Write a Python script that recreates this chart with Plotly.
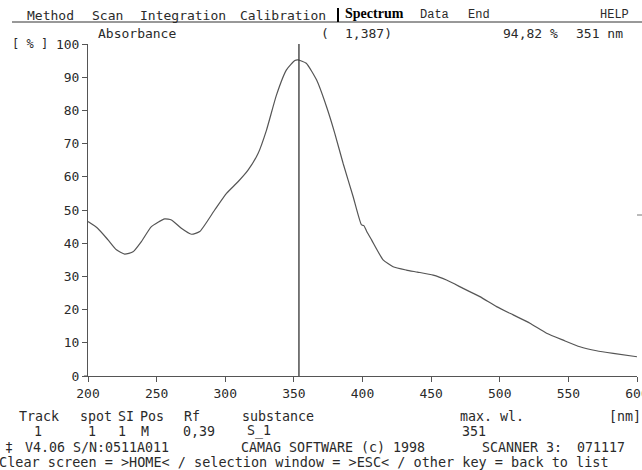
import plotly.graph_objects as go

# ---- data ----
wavelength_nm = [200, 207, 214.6, 220.7, 226.7, 232.8, 238.9, 246.2, 255.9, 260.8,
                 268, 275.4, 281.4, 292.3, 300.9, 309.3, 316.6, 323.9, 330, 337.3,
                 344.6, 350.7, 353, 359, 366.5, 373.8, 379.8, 385.9, 393.2, 399.3,
                 401, 403, 406.6, 415, 422.3, 432, 440, 451.5, 461.2, 473.3, 485.5,
                 497.7, 509.8, 522, 534.1, 546.2, 558.4, 570.5, 582.7, 600]
absorbance_pct = [46.5, 44.5, 41, 38, 36.7, 37.4, 40.5, 45, 47.3, 47,
                  44.5, 42.7, 43.5, 50, 55, 58.5, 62, 67, 74, 84.6,
                  92.2, 95.0, 95.2, 94.2, 89.2, 81.1, 73.1, 64, 54, 45.5,
                  45.3, 43.6, 41, 35, 32.9, 31.9, 31.3, 30.4, 28.9, 26.4, 23.9,
                  20.9, 18.4, 15.9, 12.9, 10.8, 8.8, 7.6, 6.8, 5.8]
cursor_nm = 353.7
x_ticks = [200, 250, 300, 350, 400, 450, 500, 550, 600]
y_ticks = [0, 10, 20, 30, 40, 50, 60, 70, 80, 90, 100]

menu_items = ["Method", "Scan", "Integration", "Calibration"]
menu_x = [25, 90, 138, 238]
menu_right = ["Data", "End", "HELP"]
menu_right_x = [418, 466, 598]

W, H = 642, 470
L, R, T, B = 88, 5, 44, 94
PW, PH = W - L - R, H - T - B
MONO = "DejaVu Sans Mono"
TXT = "#2a2a2a"
FS = 13.3


def px(x, y):
    return (x - L) / PW, (H - B - y) / PH


fig = go.Figure()
fig.add_trace(go.Scatter(x=wavelength_nm, y=absorbance_pct, mode="lines",
                         line=dict(color="#555555", width=1.2, shape="spline", smoothing=0.5),
                         hoverinfo="skip", showlegend=False))

fig.add_shape(type="line", xref="x", yref="y", x0=cursor_nm, x1=cursor_nm, y0=0, y1=100.5,
              line=dict(color="#333333", width=1.3))

anns = []


def txt(s, x, y, size=FS, color=TXT, anchor="left", family=MONO):
    xp, yp = px(x, y)
    anns.append(dict(text=s, x=xp, y=yp, xref="paper", yref="paper", showarrow=False,
                     xanchor=anchor, yanchor="middle",
                     font=dict(family=family, size=size, color=color)))


for s, x in zip(menu_items, menu_x):
    txt(s, x, 15, size=13)
txt("<b>Spectrum</b>", 343, 14, size=14, color="#000000", family="Liberation Serif")
for s, x in zip(menu_right, menu_right_x):
    txt(s, x, 15, size=12, family="Liberation Mono")

txt("Absorbance", 96, 33, size=13)
txt("(", 319, 33, size=13)
txt("1,387)", 343, 33, size=13)
txt("94,82 %", 501, 33, size=13)
txt("351 nm", 574, 33, size=13)
txt("[ % ]", 10, 44, size=12)

# bottom info lines
txt("Track", 17, 416)
txt("spot", 78, 416)
txt("SI", 116, 416)
txt("Pos", 138, 416)
txt("Rf", 182, 416)
txt("substance", 240, 416)
txt("max. wl.", 458, 416)
txt("[nm]", 607, 416)

txt("1", 32, 431)
txt("1", 86, 431)
txt("1", 116, 431)
txt("M", 139, 431)
txt("0,39", 181, 431)
txt("S_1", 245, 431)
txt("351", 460, 431)

txt("‡", 3, 447)
txt("V4.06 S/N:0511A011", 23, 447)
txt("CAMAG SOFTWARE (c) 1998", 239, 447)
txt("SCANNER 3:", 480, 447)
txt("071117", 575, 447)

txt("Clear screen = >HOME< / selection window = >ESC< / other key = back to list", -3, 462, size=13.5)

# menu underline and separator bar
x0, y0 = px(12, 22)
x1, _ = px(642, 22)
fig.add_shape(type="line", xref="paper", yref="paper", x0=x0, x1=x1, y0=y0, y1=y0,
              line=dict(color="#333333", width=1))
bx, by0 = px(338, 8)
_, by1 = px(338, 22)
fig.add_shape(type="line", xref="paper", yref="paper", x0=bx, x1=bx, y0=by0, y1=by1,
              line=dict(color="#000000", width=2))
# x-axis stub left of the y-axis
sx0, sy = px(84, 376)
sx1, _ = px(88, 376)
fig.add_shape(type="line", xref="paper", yref="paper", x0=sx0, x1=sx1, y0=sy, y1=sy,
              line=dict(color="#555555", width=1))
# small mark at right edge
mx0, my = px(637, 215)
mx1, _ = px(642, 215)
fig.add_shape(type="line", xref="paper", yref="paper", x0=mx0, x1=mx1, y0=my, y1=my,
              line=dict(color="#777777", width=1))

fig.update_layout(
    width=W, height=H,
    margin=dict(l=L, r=R, t=T, b=B, pad=0, autoexpand=False),
    paper_bgcolor="white", plot_bgcolor="white",
    annotations=anns,
    xaxis=dict(range=[200, 600], tickvals=x_ticks, ticktext=[str(v) for v in x_ticks],
               showgrid=False, zeroline=False, showline=True, linecolor="#555555", linewidth=1,
               ticks="outside", ticklen=5, tickcolor="#555555", tickwidth=1,
               ticklabeloverflow="allow", automargin=False,
               tickfont=dict(family=MONO, size=13, color=TXT), fixedrange=True),
    yaxis=dict(range=[0, 100], tickvals=y_ticks, ticktext=[str(v) for v in y_ticks],
               showgrid=False, zeroline=False, showline=True, linecolor="#555555", linewidth=1,
               ticks="outside", ticklen=5, tickcolor="#555555", tickwidth=1,
               automargin=False,
               tickfont=dict(family=MONO, size=13, color=TXT), fixedrange=True),
    showlegend=False,
)

fig.write_html("out.html", config={"displayModeBar": False},
               post_script="document.body.style.margin='0';document.body.style.overflow='hidden';")
